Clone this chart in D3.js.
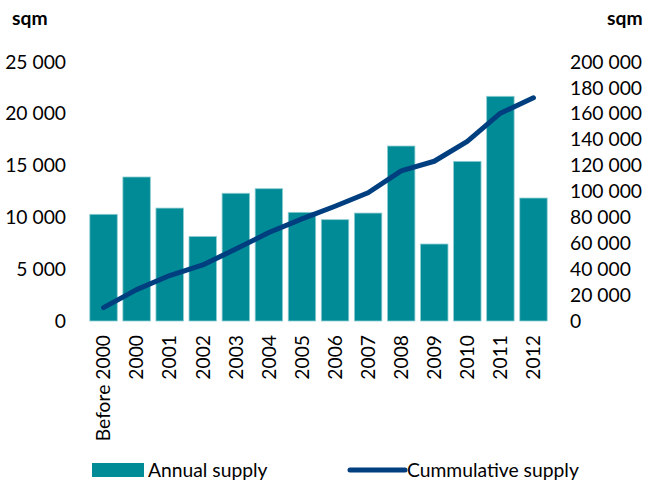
<!DOCTYPE html>
<html>
<head>
<meta charset="utf-8">
<script src="https://cdn.jsdelivr.net/npm/d3@7"></script>
<style>
  html, body { margin: 0; padding: 0; background: #fff; }
  svg { display: block; }
  text { font-family: Lato, "Open Sans", sans-serif; fill: #000; }
</style>
</head>
<body>
<svg id="chart" width="646" height="487"></svg>
<script>
// Office space supply by year, in square metres
const categories = ["Before 2000", "2000", "2001", "2002", "2003", "2004", "2005",
                    "2006", "2007", "2008", "2009", "2010", "2011", "2012"];
const annualSupply = [10300, 13900, 10900, 8150, 12330, 12770, 10490,
                      9780, 10420, 16890, 7430, 15410, 21690, 11870];
const cumulativeSupply = [10300, 24200, 35100, 43250, 55580, 68350, 78840,
                          88620, 99040, 115930, 123360, 138770, 160460, 172330];
const leftTicks = [0, 5000, 10000, 15000, 20000, 25000];
const rightTicks = [0, 20000, 40000, 60000, 80000, 100000, 120000, 140000, 160000, 180000, 200000];
const seriesNames = ["Annual supply", "Cummulative supply"];

const barColor = "#008b96";
const lineColor = "#003f7f";
const fontSize = 19.3;

const svg = d3.select("#chart");
const plot = { left: 87, right: 550, top: 62, bottom: 321 };

const fmt = v => d3.format(",")(v).replace(/,/g, " ");

const x = d3.scaleBand().domain(categories)
  .range([plot.left, plot.right]).paddingInner(0.17).paddingOuter(0.085);
const yL = d3.scaleLinear().domain([0, 25000]).range([plot.bottom, plot.top]);
const yR = d3.scaleLinear().domain([0, 200000]).range([plot.bottom, plot.top]);

// bars
svg.append("g").selectAll("rect").data(categories).join("rect")
  .attr("x", d => x(d))
  .attr("y", (d, i) => yL(annualSupply[i]))
  .attr("width", x.bandwidth())
  .attr("height", (d, i) => yL(0) - yL(annualSupply[i]))
  .attr("fill", barColor)
  .attr("stroke", "#8fcdd2")
  .attr("stroke-width", 0.8);

// cumulative line
const line = d3.line()
  .x((d, i) => x(categories[i]) + x.bandwidth() / 2)
  .y(d => yR(d));
svg.append("path").datum(cumulativeSupply)
  .attr("d", line)
  .attr("fill", "none")
  .attr("stroke", lineColor)
  .attr("stroke-width", 5)
  .attr("stroke-linecap", "round")
  .attr("stroke-linejoin", "round");

// left axis
const axL = d3.axisLeft(yL).tickValues(leftTicks).tickFormat(fmt).tickSize(0).tickPadding(21);
const gL = svg.append("g").attr("transform", `translate(${plot.left},0)`).call(axL);
gL.select(".domain").remove();
gL.selectAll("text").attr("font-size", fontSize).attr("font-family", "Lato, sans-serif").attr("fill", "#000");

// right axis
const axR = d3.axisRight(yR).tickValues(rightTicks).tickFormat(fmt).tickSize(0).tickPadding(20);
const gR = svg.append("g").attr("transform", `translate(${plot.right},0)`).call(axR);
gR.select(".domain").remove();
gR.selectAll("text").attr("font-size", fontSize).attr("font-family", "Lato, sans-serif").attr("fill", "#000");

// category axis, rotated labels
const axB = d3.axisBottom(x).tickSize(0).tickPadding(0);
const gB = svg.append("g").attr("transform", `translate(0,${plot.bottom})`).call(axB);
gB.select(".domain").remove();
gB.selectAll("text")
  .attr("font-size", fontSize).attr("font-family", "Lato, sans-serif").attr("fill", "#000")
  .attr("transform", "rotate(-90)")
  .attr("text-anchor", "end")
  .attr("x", -14).attr("y", 0).attr("dy", "0.35em");

// unit labels
svg.append("text").attr("x", 12).attr("y", 25).attr("font-size", fontSize)
  .attr("font-weight", "bold").text("sqm");
svg.append("text").attr("x", 607).attr("y", 25).attr("font-size", fontSize)
  .attr("font-weight", "bold").text("sqm");

// legend
const lg = svg.append("g");
lg.append("rect").attr("x", 92).attr("y", 463).attr("width", 52).attr("height", 14).attr("fill", barColor);
lg.append("text").attr("x", 148).attr("y", 470).attr("dy", "0.35em").attr("font-size", fontSize).text(seriesNames[0]);
lg.append("line").attr("x1", 350).attr("x2", 405).attr("y1", 470).attr("y2", 470)
  .attr("stroke", lineColor).attr("stroke-width", 5).attr("stroke-linecap", "round");
lg.append("text").attr("x", 407).attr("y", 470).attr("dy", "0.35em").attr("font-size", fontSize).text(seriesNames[1]);
</script>
</body>
</html>
